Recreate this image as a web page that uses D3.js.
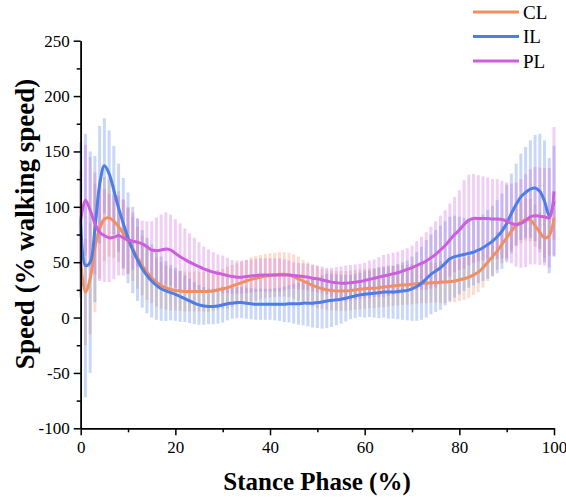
<!DOCTYPE html>
<html>
<head>
<meta charset="utf-8">
<script src="https://cdn.jsdelivr.net/npm/d3@7"></script>
<style>
  html, body { margin: 0; padding: 0; background: #fff; }
  svg { display: block; }
  svg text { font-family: 'Liberation Serif', 'Times New Roman', serif; }
</style>
</head>
<body>
<svg id="chart" width="566" height="498"></svg>
<script>
// ---- data (stance phase 0..100 %, one value per 1 %) ----
const seriesNames = ["CL", "IL", "PL"];
const xTicks = [0, 20, 40, 60, 80, 100];
const xMinorTicks = [10, 30, 50, 70, 90];
const yTicks = [-100, -50, 0, 50, 100, 150, 200, 250];
const yMinorTicks = [-75, -25, 25, 75, 125, 175, 225];

const clMean = [50,23,35,63,80,89,90,87,82,76,69,62,54,47,41,36,32,29,27,25.5,24.5,24,23.5,23.5,23.5,23.5,23.5,23.5,24,25,
  26,27,28.5,30,31.5,33,34.5,35.5,36.5,37.5,38,38.5,39,39,38.5,37,35,33,31,29,
  27.5,26,25,24.5,24,24,24,24.5,25,25.5,26,26.5,26.5,27,27.5,28,28.5,29,29.5,29.5,
  30,30.5,31,31,31.5,31.5,32,32,32.5,33,34,35,36.5,38.5,41,45,50,55,60,66,
  72,78,83,86,88.5,88,83,77,72,74,90];
const clSd = [30,48,50,58,45,38,35,33,32,31,30,29,28,27,25,23,22,21,20,19,18,18,18,18,18,18,18,18,18,18,
  18,19,19,19,19,19,20,20,20,20,20,20,20,20,20,20,20,19,19,19,
  19,18,18,18,18,18,18,18,18,18,18,18,18,18,18,18,18,18,18,18,
  18,18,18,18,18,18,19,19,19,19,19,19,19,18,18,18,17,17,17,17,
  18,18,18,19,19,19,19,18,18,18,20];

const ilMean = [88,47,50,80,120,137,130,115,99,85,72,61,52,44,38,33,29,26,24,22.5,21,19,17,15,13,11.5,10.5,10,10,10.5,
  11.5,12.5,13,13.5,13.5,13,12.5,12,12,12,12,12,12,12,12.5,12.5,12.5,13,13,13,
  13.5,14,15,15.5,16,16.5,17.5,18.5,19.5,20.5,21,21.5,22,22.5,23,23,23,23.5,24,24.5,
  26,28,31,35,39,42,45,49,53,55,56,57,58,59,61,63,66,69,73,78,
  85,94,102,109,113,116,117,114,105,92,105];
const ilSd = [70,119,100,66,53,43,39,40,40,41,41,39,37,35,34,33,31,29,27,25,24,23,21,20,19,18,17,16,16,16,
  16,15,14,14,14,14,14,14,14,14,14,14.5,15,16,17,18,19,20,21,22,
  23,24,24.5,24,23,22,21,20,20,20,21,21,22,23,23,24,24,25,26,27,
  29,31,33,35,36,37,38,38,38,37,35,33,31,30,30,30,31,32,33,34,
  35,36,37,39,41,44,48,52,55,52,50];

const plMean = [88,106,97,85,77,74,72,72.5,74,72,70,69,68,66.5,64,61,60.5,61,62,61,58,55,52.5,50,48,46,44,42.5,41,40,
  39,38,37,36.5,36.5,37,37.5,38,38.5,38.5,38.5,38.5,38.5,38.5,38.5,38,37.5,37,36.5,35.5,
  35,34,33,32,31.5,31,31,31.5,32,32.5,33.5,34.5,35.5,36.5,37.5,38.5,39.5,40.5,42,43.5,
  45,47,49,51,54,57,61,65,70,75,79,84,88,89.5,89.5,89.5,89.5,89,89,88.5,
  87,85,84,85,87.5,91,92,91.5,91,90,114];
const plSd = [45,50,48,46,44,42,40,38,36,34,30,26,22,21,23,26,30,32,33,32,31,30,28,26,24,22,20,19,18,17,
  17,16,15,15,15,15,15,15,15,15,15,15,15,14,13,12,12,12,12,12,
  12,12,12,13,14,15,16,16,16,16,16,17,17,18,19,19,19,19,19,19,
  20,22,24,26,28,30,31,32,33,34,36,40,41,40,39,38,37,36,36,35,
  35,36,38,40,42,43,44,44,44,45,58];

const seriesMeans = [clMean, ilMean, plMean];
const seriesSds = [clSd, ilSd, plSd];
const seriesColors = ["#EF8F62", "#4C7EE6", "#CD5FDD"];

// ---- chart ----
const svg = d3.select("#chart");
const x = d3.scaleLinear().domain([0, 100]).range([80.7, 554]);
const y = d3.scaleLinear().domain([-100, 250]).range([428.3, 40.7]);
const font = "'Liberation Serif', 'Times New Roman', serif";

// error bars
seriesMeans.forEach((m, si) => {
  const sd = seriesSds[si];
  svg.append("g")
    .selectAll("line")
    .data(m.map((v, i) => ({ p: i, v: v, s: sd[i] })))
    .join("line")
    .attr("x1", d => x(d.p)).attr("x2", d => x(d.p))
    .attr("y1", d => y(d.v + d.s)).attr("y2", d => y(d.v - d.s))
    .attr("stroke", seriesColors[si])
    .attr("stroke-opacity", 0.3)
    .attr("stroke-width", 3);
});

// mean lines
const line = d3.line()
  .x((d, i) => x(i))
  .y(d => y(d))
  .curve(d3.curveCatmullRom.alpha(0.5));
seriesMeans.forEach((m, si) => {
  svg.append("path")
    .attr("d", line(m))
    .attr("fill", "none")
    .attr("stroke", seriesColors[si])
    .attr("stroke-width", 3)
    .attr("stroke-linejoin", "round");
});

// axes
function styleAxis(g) {
  g.attr("font-family", font);
  g.selectAll("path").attr("stroke", "#000").attr("stroke-width", 1.5);
  g.selectAll("line").attr("stroke", "#000").attr("stroke-width", 1.5);
  g.selectAll("text").style("font-family", font).attr("font-size", 17).attr("fill", "#000");
}
const fmt = d => String(d);
svg.append("g").attr("transform", `translate(0,${y(-100)})`)
  .call(d3.axisBottom(x).tickValues(xTicks).tickFormat(fmt).tickSize(7).tickSizeOuter(0).tickPadding(6))
  .call(styleAxis);
svg.append("g").attr("transform", `translate(0,${y(-100)})`)
  .call(d3.axisBottom(x).tickValues(xMinorTicks).tickSize(4).tickSizeOuter(0).tickFormat(""))
  .call(styleAxis);
svg.append("g").attr("transform", `translate(${x(0)},0)`)
  .call(d3.axisLeft(y).tickValues(yTicks).tickFormat(fmt).tickSize(7).tickSizeOuter(0).tickPadding(4))
  .call(styleAxis);
svg.append("g").attr("transform", `translate(${x(0)},0)`)
  .call(d3.axisLeft(y).tickValues(yMinorTicks).tickSize(4).tickSizeOuter(0).tickFormat(""))
  .call(styleAxis);

// titles
svg.append("text")
  .attr("x", 317).attr("y", 490)
  .attr("text-anchor", "middle")
  .attr("font-family", font).attr("font-weight", "bold").attr("font-size", 25)
  .text("Stance Phase (%)");
svg.append("text")
  .attr("transform", "translate(34,224) rotate(-90)")
  .attr("text-anchor", "middle")
  .attr("font-family", font).attr("font-weight", "bold").attr("font-size", 27)
  .text("Speed (% walking speed)");

// legend
const legend = svg.append("g");
seriesNames.forEach((name, i) => {
  const ly = 12 + i * 24.5;
  legend.append("line")
    .attr("x1", 473).attr("x2", 519).attr("y1", ly).attr("y2", ly)
    .attr("stroke", seriesColors[i]).attr("stroke-width", 3);
  legend.append("text")
    .attr("x", 523).attr("y", ly + 6.5)
    .attr("font-family", font).attr("font-size", 19)
    .text(name);
});
</script>
</body>
</html>
